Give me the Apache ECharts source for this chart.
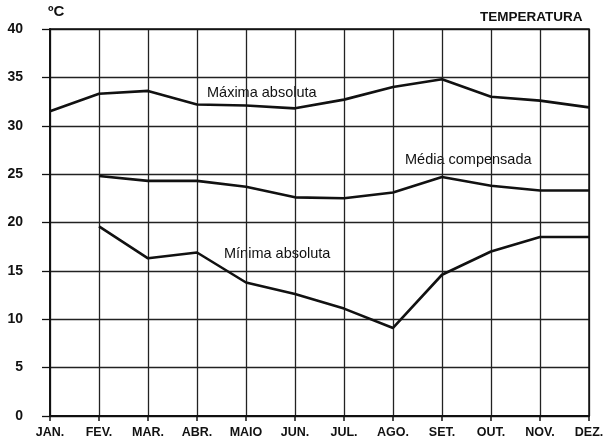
<!DOCTYPE html>
<html>
<head>
<meta charset="utf-8">
<script src="https://cdn.jsdelivr.net/npm/echarts@6/dist/echarts.min.js"></script>
<style>
  html, body { margin: 0; padding: 0; background: #fff; }
  #chart { width: 611px; height: 446px; }
</style>
</head>
<body>
<div id="chart"></div>
<script>
let months = ["JAN.", "FEV.", "MAR.", "ABR.", "MAIO", "JUN.", "JUL.", "AGO.", "SET.", "OUT.", "NOV.", "DEZ."];
let maxima = [31.5, 33.3, 33.6, 32.2, 32.1, 31.8, 32.7, 34.0, 34.8, 33.0, 32.6, 31.9];
let media = [null, 24.8, 24.3, 24.3, 23.7, 22.6, 22.5, 23.1, 24.7, 23.8, 23.3, 23.3];
let minima = [null, 19.6, 16.3, 16.9, 13.8, 12.6, 11.1, 9.1, 14.6, 17.0, 18.5, 18.5];

let ink = "#111";
let font = "'Liberation Sans Narrow', 'Liberation Sans', sans-serif";

function lineSeries(name, data) {
  return {
    name: name,
    type: "line",
    data: data,
    symbol: "none",
    connectNulls: false,
    lineStyle: { color: ink, width: 2.6 },
    z: 5
  };
}

let chart = echarts.init(document.getElementById("chart"), null, { renderer: "canvas" });
chart.setOption({
  animation: false,
  backgroundColor: "#fff",
  grid: { left: 50, right: 22, top: 29, bottom: 30 },
  xAxis: {
    type: "category",
    data: months,
    boundaryGap: false,
    axisLine: { show: true, lineStyle: { color: ink, width: 2 } },
    axisTick: { show: true, length: 5, lineStyle: { color: ink, width: 1.5 } },
    axisLabel: { color: ink, fontFamily: font, fontWeight: "bold", fontSize: 12.5, margin: 10 },
    splitLine: { show: true, lineStyle: { color: "#222", width: 1.3 } }
  },
  yAxis: {
    type: "value",
    min: 0, max: 40, interval: 5,
    axisLine: { show: true, lineStyle: { color: ink, width: 1.8 } },
    axisTick: { show: true, length: 8, lineStyle: { color: ink, width: 1.3 } },
    axisLabel: { color: ink, fontFamily: font, fontWeight: "bold", fontSize: 14, margin: 27 },
    splitLine: { show: true, lineStyle: { color: "#222", width: 1.3 } }
  },
  series: [
    lineSeries("Máxima absoluta", maxima),
    lineSeries("Média compensada", media),
    lineSeries("Mínima absoluta", minima)
  ],
  graphic: [
    { type: "rect", shape: { x: 50, y: 29, width: 539, height: 387 }, style: { fill: "none", stroke: ink, lineWidth: 1.5 }, z: 4, silent: true },
    { type: "text", left: 48, top: 4, style: { text: "ºC", fill: ink, font: "bold 15px " + font } },
    { type: "text", left: 480, top: 10, style: { text: "TEMPERATURA", fill: ink, font: "bold 13.5px " + font } },
    { type: "text", left: 207, top: 85, style: { text: "Máxima absoluta", fill: ink, font: "14.5px " + font } },
    { type: "text", left: 405, top: 152, style: { text: "Média compensada", fill: ink, font: "14.5px " + font } },
    { type: "text", left: 224, top: 246, style: { text: "Mínima absoluta", fill: ink, font: "14.5px " + font } }
  ]
});
</script>
</body>
</html>
